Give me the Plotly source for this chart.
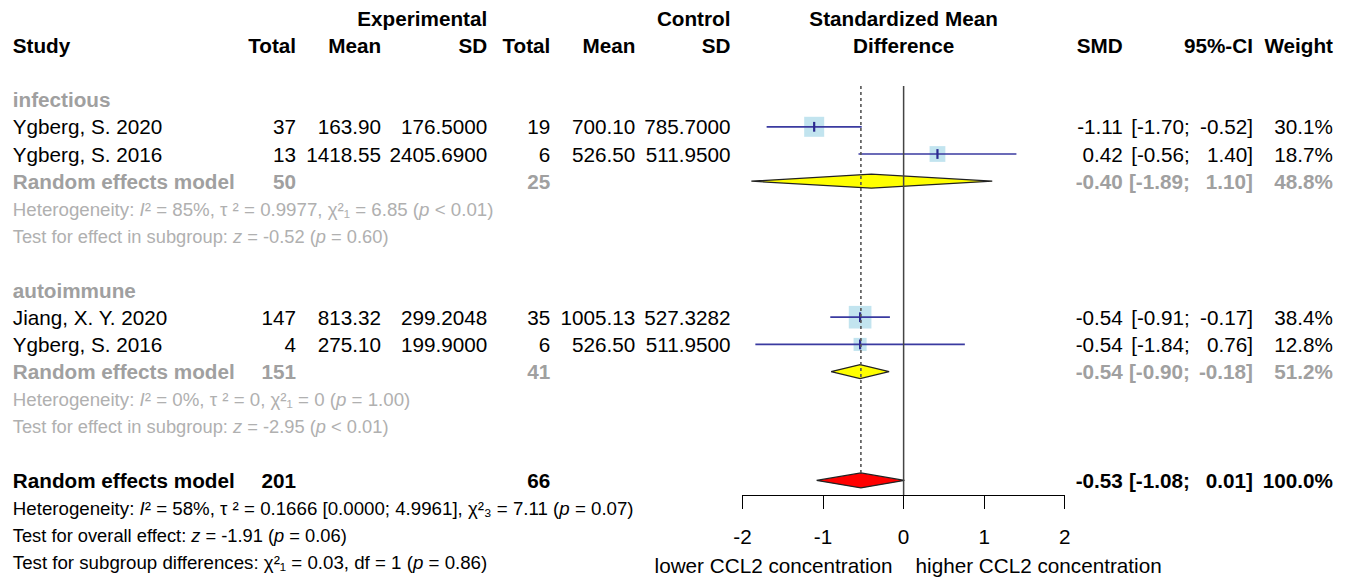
import plotly.graph_objects as go

W, H = 1351, 580
FONT = "Liberation Sans, Arial, sans-serif"
FS = 20.7
FS_HET = 18.3
FS_HET_MATH = 18.7
GREY = "#A0A0A0"
GREY_LIGHT = "#B0B0B0"

# ---------------- data ----------------
studies = ["Ygberg, S. 2020", "Ygberg, S. 2016", "Jiang, X. Y. 2020", "Ygberg, S. 2016"]
exp_n = [37, 13, 147, 4]
exp_mean = [163.90, 1418.55, 813.32, 275.10]
exp_sd = [176.5000, 2405.6900, 299.2048, 199.9000]
ctl_n = [19, 6, 35, 6]
ctl_mean = [700.10, 526.50, 1005.13, 526.50]
ctl_sd = [785.7000, 511.9500, 527.3282, 511.9500]
smd = [-1.11, 0.42, -0.54, -0.54]
ci_lo = [-1.70, -0.56, -0.91, -1.84]
ci_hi = [-0.52, 1.40, -0.17, 0.76]
weight = [30.1, 18.7, 38.4, 12.8]

sub_names = ["infectious", "autoimmune"]
sub_exp_n = [50, 151]
sub_ctl_n = [25, 41]
sub_smd = [-0.40, -0.54]
sub_lo = [-1.89, -0.90]
sub_hi = [1.10, -0.18]
sub_w = [48.8, 51.2]
sub_het = [
    "Heterogeneity: <i>I</i>\u00b2 = 85%, \u03c4 \u00b2 = 0.9977, \u03c7\u00b2\u2081 = 6.85 (<i>p</i> &lt; 0.01)",
    "Heterogeneity: <i>I</i>\u00b2 = 0%, \u03c4 \u00b2 = 0, \u03c7\u00b2\u2081 = 0 (<i>p</i> = 1.00)",
]
sub_test = [
    "Test for effect in subgroup: <i>z</i> = -0.52 (<i>p</i> = 0.60)",
    "Test for effect in subgroup: <i>z</i> = -2.95 (<i>p</i> &lt; 0.01)",
]

overall_exp_n = 201
overall_ctl_n = 66
overall_smd = -0.53
overall_lo = -1.08
overall_hi = 0.01
overall_w = 100.0
overall_text = [
    "Heterogeneity: <i>I</i>\u00b2 = 58%, \u03c4 \u00b2 = 0.1666 [0.0000; 4.9961], \u03c7\u00b2\u2083 = 7.11 (<i>p</i> = 0.07)",
    "Test for overall effect: <i>z</i> = -1.91 (<i>p</i> = 0.06)",
    "Test for subgroup differences: \u03c7\u00b2\u2081 = 0.03, df = 1 (<i>p</i> = 0.86)",
]
overall_text_sizes = [FS_HET_MATH, FS_HET, FS_HET_MATH]
axis_ticks = [-2, -1, 0, 1, 2]
label_left = "lower CCL2 concentration"
label_right = "higher CCL2 concentration"

# ---------------- layout rows ----------------
study_rows = [4, 5, 11, 12]
sub_label_rows = [3, 10]
sub_rows = [6, 13]
het_rows = [7, 14]
test_rows = [8, 15]
overall_row = 17
overall_text_rows = [18, 19, 20]

ROW0, PITCH = 18.0, 27.2
TEXT_DY = 2.5 / PITCH
def px2row(p):
    return (p - ROW0) / PITCH

def fx(p):
    # horizontal pixel correction for the rendered page
    return (p - 9.2) / 0.988

# column positions in px
X_STUDY = 13
X_ETOT, X_EMEAN, X_ESD = 296, 381, 487
X_CTOT, X_CMEAN, X_CSD = 550, 635, 730
X_SMDHDR = 903
X_SMD, X_CILO, X_CIHI, X_W = 1122, 1189, 1252, 1332

groups = {}
def txt(xp, row, s, anchor="right", bold=False, color="black", size=FS):
    if bold:
        s = "<b>" + s + "</b>"
    groups.setdefault((anchor, color, size), []).append((fx(xp), row + TEXT_DY, s))

# headers
txt(X_ESD, 0, "Experimental", bold=True)
txt(X_CSD, 0, "Control", bold=True)
txt(X_SMDHDR, 0, "Standardized Mean", anchor="center", bold=True)
txt(X_STUDY, 1, "Study", anchor="left", bold=True)
for xp, s in [(X_ETOT, "Total"), (X_EMEAN, "Mean"), (X_ESD, "SD"),
              (X_CTOT, "Total"), (X_CMEAN, "Mean"), (X_CSD, "SD"),
              (X_SMD, "SMD"), (X_CIHI, "95%-CI"), (X_W, "Weight")]:
    txt(xp, 1, s, bold=True)
txt(X_SMDHDR, 1, "Difference", anchor="center", bold=True)

def ci_text(row, est, lo, hi, w, bold=False, color="black"):
    txt(X_SMD, row, f"{est:.2f}", bold=bold, color=color)
    txt(X_CILO, row, f"[{lo:.2f};", bold=bold, color=color)
    txt(X_CIHI, row, f"{hi:.2f}]", bold=bold, color=color)
    txt(X_W, row, f"{w:.1f}%", bold=bold, color=color)

for i, r in enumerate(study_rows):
    txt(X_STUDY, r, studies[i], anchor="left")
    txt(X_ETOT, r, str(exp_n[i]))
    txt(X_EMEAN, r, f"{exp_mean[i]:.2f}")
    txt(X_ESD, r, f"{exp_sd[i]:.4f}")
    txt(X_CTOT, r, str(ctl_n[i]))
    txt(X_CMEAN, r, f"{ctl_mean[i]:.2f}")
    txt(X_CSD, r, f"{ctl_sd[i]:.4f}")
    ci_text(r, smd[i], ci_lo[i], ci_hi[i], weight[i])

for j in range(2):
    txt(X_STUDY, sub_label_rows[j], sub_names[j], anchor="left", bold=True, color=GREY)
    r = sub_rows[j]
    txt(X_STUDY, r, "Random effects model", anchor="left", bold=True, color=GREY)
    txt(X_ETOT, r, str(sub_exp_n[j]), bold=True, color=GREY)
    txt(X_CTOT, r, str(sub_ctl_n[j]), bold=True, color=GREY)
    ci_text(r, sub_smd[j], sub_lo[j], sub_hi[j], sub_w[j], bold=True, color=GREY)
    txt(X_STUDY, het_rows[j], sub_het[j], anchor="left", color=GREY_LIGHT, size=FS_HET_MATH)
    txt(X_STUDY, test_rows[j], sub_test[j], anchor="left", color=GREY_LIGHT, size=FS_HET)

txt(X_STUDY, overall_row, "Random effects model", anchor="left", bold=True)
txt(X_ETOT, overall_row, str(overall_exp_n), bold=True)
txt(X_CTOT, overall_row, str(overall_ctl_n), bold=True)
ci_text(overall_row, overall_smd, overall_lo, overall_hi, overall_w, bold=True)
for r, s, sz in zip(overall_text_rows, overall_text, overall_text_sizes):
    txt(X_STUDY, r, s, anchor="left", size=sz)

txt(892, px2row(565), label_left, anchor="right")
txt(915, px2row(565), label_right, anchor="left")

# ---------------- marks ----------------
fig = go.Figure()
DH = 7.0 / PITCH

def diamond(row, est, lo, hi, fill, h=DH):
    fig.add_trace(go.Scatter(
        x=[lo, est, hi, est, lo], y=[row, row - h, row, row + h, row],
        mode="lines", fill="toself", fillcolor=fill,
        line=dict(color="#222222", width=1.2), hoverinfo="skip", showlegend=False))

for j in range(2):
    diamond(sub_rows[j], sub_smd[j], sub_lo[j], sub_hi[j], "#FFFF00")
diamond(overall_row, overall_smd, overall_lo, overall_hi, "#FF0000", h=7.5 / PITCH)

# squares
fig.add_trace(go.Scatter(
    x=smd, y=study_rows, mode="markers",
    marker=dict(symbol="square", size=[3.65 * w ** 0.5 for w in weight],
                color="#A8D8E8", line=dict(width=0)),
    hoverinfo="skip", showlegend=False))

# CI lines
cx, cy = [], []
for i, r in enumerate(study_rows):
    cx += [ci_lo[i], ci_hi[i], None]
    cy += [r, r, None]
fig.add_trace(go.Scatter(x=cx, y=cy, mode="lines",
                         line=dict(color="#3A3AA0", width=1.7),
                         hoverinfo="skip", showlegend=False))
fig.add_trace(go.Scatter(
    x=smd, y=study_rows, mode="markers",
    marker=dict(symbol="line-ns", size=7, line=dict(color="#2A2A90", width=2.2)),
    hoverinfo="skip", showlegend=False))

# reference lines
top = px2row(86)
fig.add_trace(go.Scatter(x=[0, 0], y=[top, px2row(495)], mode="lines",
                         line=dict(color="#444444", width=1.5),
                         hoverinfo="skip", showlegend=False))
fig.add_trace(go.Scatter(x=[overall_smd, overall_smd], y=[top, overall_row - 7.5 / PITCH],
                         mode="lines", line=dict(color="#555555", width=1.6, dash="dot"),
                         hoverinfo="skip", showlegend=False))

# text columns (on a full-width pixel axis)
pos = {"left": "middle right", "right": "middle left", "center": "middle center"}
for (anchor, color, size), lst in groups.items():
    fig.add_trace(go.Scatter(
        x=[it[0] for it in lst], y=[it[1] for it in lst], text=[it[2] for it in lst],
        mode="text", textposition=pos[anchor],
        textfont=dict(family=FONT, size=size, color=color),
        xaxis="x2", yaxis="y", cliponaxis=False, hoverinfo="skip", showlegend=False))

fig.update_layout(
    width=W, height=H, margin=dict(l=0, r=0, t=0, b=0),
    paper_bgcolor="white", plot_bgcolor="rgba(0,0,0,0)",
    font=dict(family=FONT, size=FS, color="black"),
    xaxis=dict(domain=[fx(742) / W, fx(1064) / W], range=[-2, 2], tickvals=axis_ticks,
               ticktext=[str(t) for t in axis_ticks],
               showgrid=False, zeroline=False, showline=True, linecolor="black",
               linewidth=1, ticks="outside", ticklen=13, tickwidth=1, tickcolor="black",
               tickfont=dict(family=FONT, size=FS, color="black"),
               anchor="free", position=1 - 495 / H, ticklabelstandoff=10),
    xaxis2=dict(domain=[0, 1], range=[0, W], visible=False, anchor="y",
                showgrid=False, zeroline=False),
    yaxis=dict(domain=[0, 1], range=[px2row(H), px2row(0)], visible=False,
               showgrid=False, zeroline=False),
)

fig.write_html("out.html")
